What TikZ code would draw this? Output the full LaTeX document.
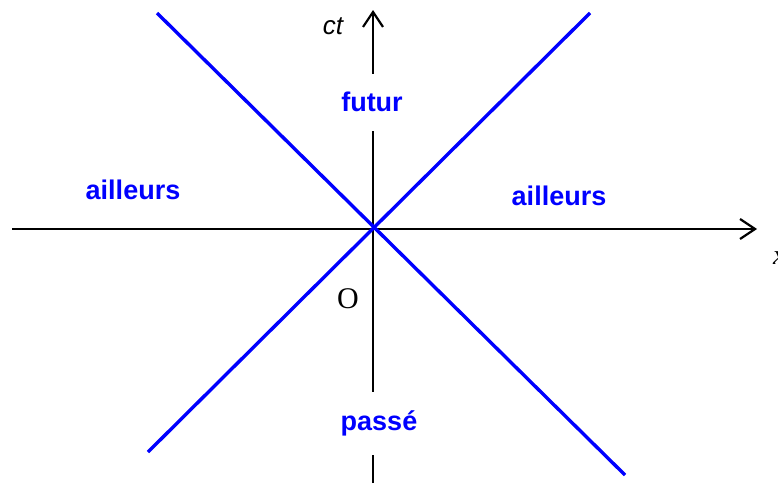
\documentclass[tikz,border=0pt]{standalone}
\usepackage{fontspec}
\setmainfont{Liberation Serif}
\setsansfont{Liberation Sans}
\usetikzlibrary{arrows.meta}

\tikzset{
  axis/.style={line width=2.2pt, -{Straight Barb[length=15pt,width=20pt,line width=2.2pt]}},
  cone/.style={blue, line width=3.4pt},
  zone/.style={blue, font=\sffamily\bfseries\fontsize{27}{30}\selectfont, fill=white, inner sep=0pt}
}

\begin{document}
\begin{tikzpicture}[x=1pt, y=-1pt]
  \useasboundingbox (0,0) rectangle (778,483);

  % axes
  \coordinate (O) at (373,229);
  \coordinate (xmin) at (12,229);
  \coordinate (xmax) at (757,229);
  \coordinate (tmin) at (373,483);
  \coordinate (tmax) at (373,10);
  \draw[axis] (xmin) -- (xmax);
  \draw[axis] (tmin) -- (tmax);

  % light cone
  \coordinate (c1) at (157,13);
  \coordinate (c2) at (625,475);
  \coordinate (c3) at (148,452);
  \coordinate (c4) at (590,13);
  \draw[cone] (c1) -- (c2);
  \draw[cone] (c3) -- (c4);

  % regions (white fill cuts the time axis)
  \node[zone, minimum height=57pt, minimum width=70pt] (futur) at (372,102) {futur};
  \node[zone, minimum height=63pt, minimum width=90pt] (passe) at (379,423) {passé};
  \node[zone] (ailleursG) at (133,190) {ailleurs};
  \node[zone] (ailleursD) at (559,196) {ailleurs};

  % axis labels
  \node[font=\sffamily\itshape\fontsize{26}{28}\selectfont] (ct) at (333,26) {ct};
  \node[font=\itshape\fontsize{28}{30}\selectfont, anchor=west, inner sep=0pt] (x) at (773,258) {x};
  \node[font=\fontsize{30}{32}\selectfont] (o) at (348,299) {O};
\end{tikzpicture}
\end{document}
